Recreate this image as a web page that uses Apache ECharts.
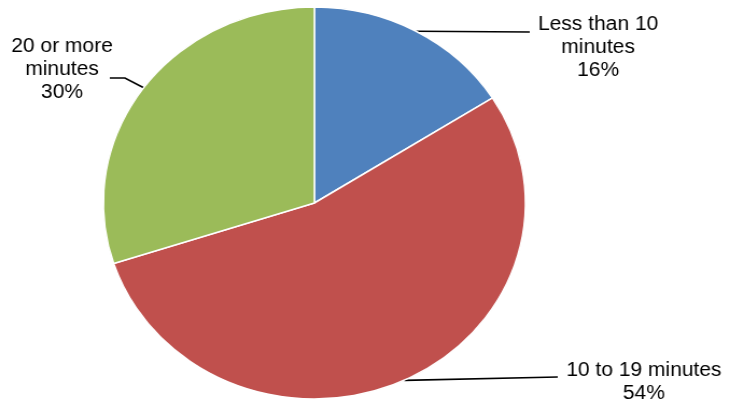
<!DOCTYPE html>
<html>
<head>
<meta charset="utf-8">
<script src="https://cdn.jsdelivr.net/npm/echarts@6/dist/echarts.min.js"></script>
<style>
  html, body { margin: 0; padding: 0; background: #fff; overflow: hidden; }
  #wrap { width: 730px; height: 404px; position: relative; overflow: hidden; }
  #chart { width: 678px; height: 404px; transform: scaleX(1.0767); transform-origin: 0 0; }
</style>
</head>
<body>
<div id="wrap"><div id="chart"></div></div>
<script>
// Data
var categories = ['Less than 10\nminutes', '10 to 19 minutes', '20 or more\nminutes'];
var values = [16, 54, 30];
var colors = ['#4F81BD', '#C0504D', '#9BBB59'];

// Label layout (positions only, in unscaled chart coordinates)
var labelCenters = [[555.5, 48], [598, 382], [57.6, 70]];
var lineEnds = [
  [[492, 32]],
  [[518, 377]],
  [[116, 78], [102, 78]]
];

var chart = echarts.init(document.getElementById('chart'), null, { renderer: 'canvas' });

var data = categories.map(function (c, i) {
  return { name: c, value: values[i], itemStyle: { color: colors[i] } };
});

chart.setOption({
  animation: false,
  backgroundColor: '#ffffff',
  series: [{
    type: 'pie',
    center: [292, 203],
    radius: 196,
    startAngle: 90,
    clockwise: true,
    avoidLabelOverlap: false,
    itemStyle: { borderColor: '#ffffff', borderWidth: 1.5 },
    label: {
      show: true,
      position: 'outside',
      formatter: function (p) { return p.name + '\n' + p.value + '%'; },
      color: '#000000',
      fontFamily: 'Arial, "Liberation Sans", sans-serif',
      fontSize: 19.5,
      lineHeight: 23,
      align: 'center'
    },
    labelLine: {
      show: true,
      length: 10,
      length2: 10,
      smooth: false,
      lineStyle: { color: '#000000', width: 1.6 }
    },
    labelLayout: function (params) {
      var i = params.dataIndex;
      var start = (params.labelLinePoints && params.labelLinePoints[0]) || null;
      var res = {
        x: labelCenters[i][0],
        y: labelCenters[i][1],
        align: 'center',
        verticalAlign: 'middle'
      };
      if (start) {
        res.labelLinePoints = [start.slice ? start.slice() : [start[0], start[1]]].concat(lineEnds[i]);
      }
      return res;
    },
    data: data
  }]
});
</script>
</body>
</html>
